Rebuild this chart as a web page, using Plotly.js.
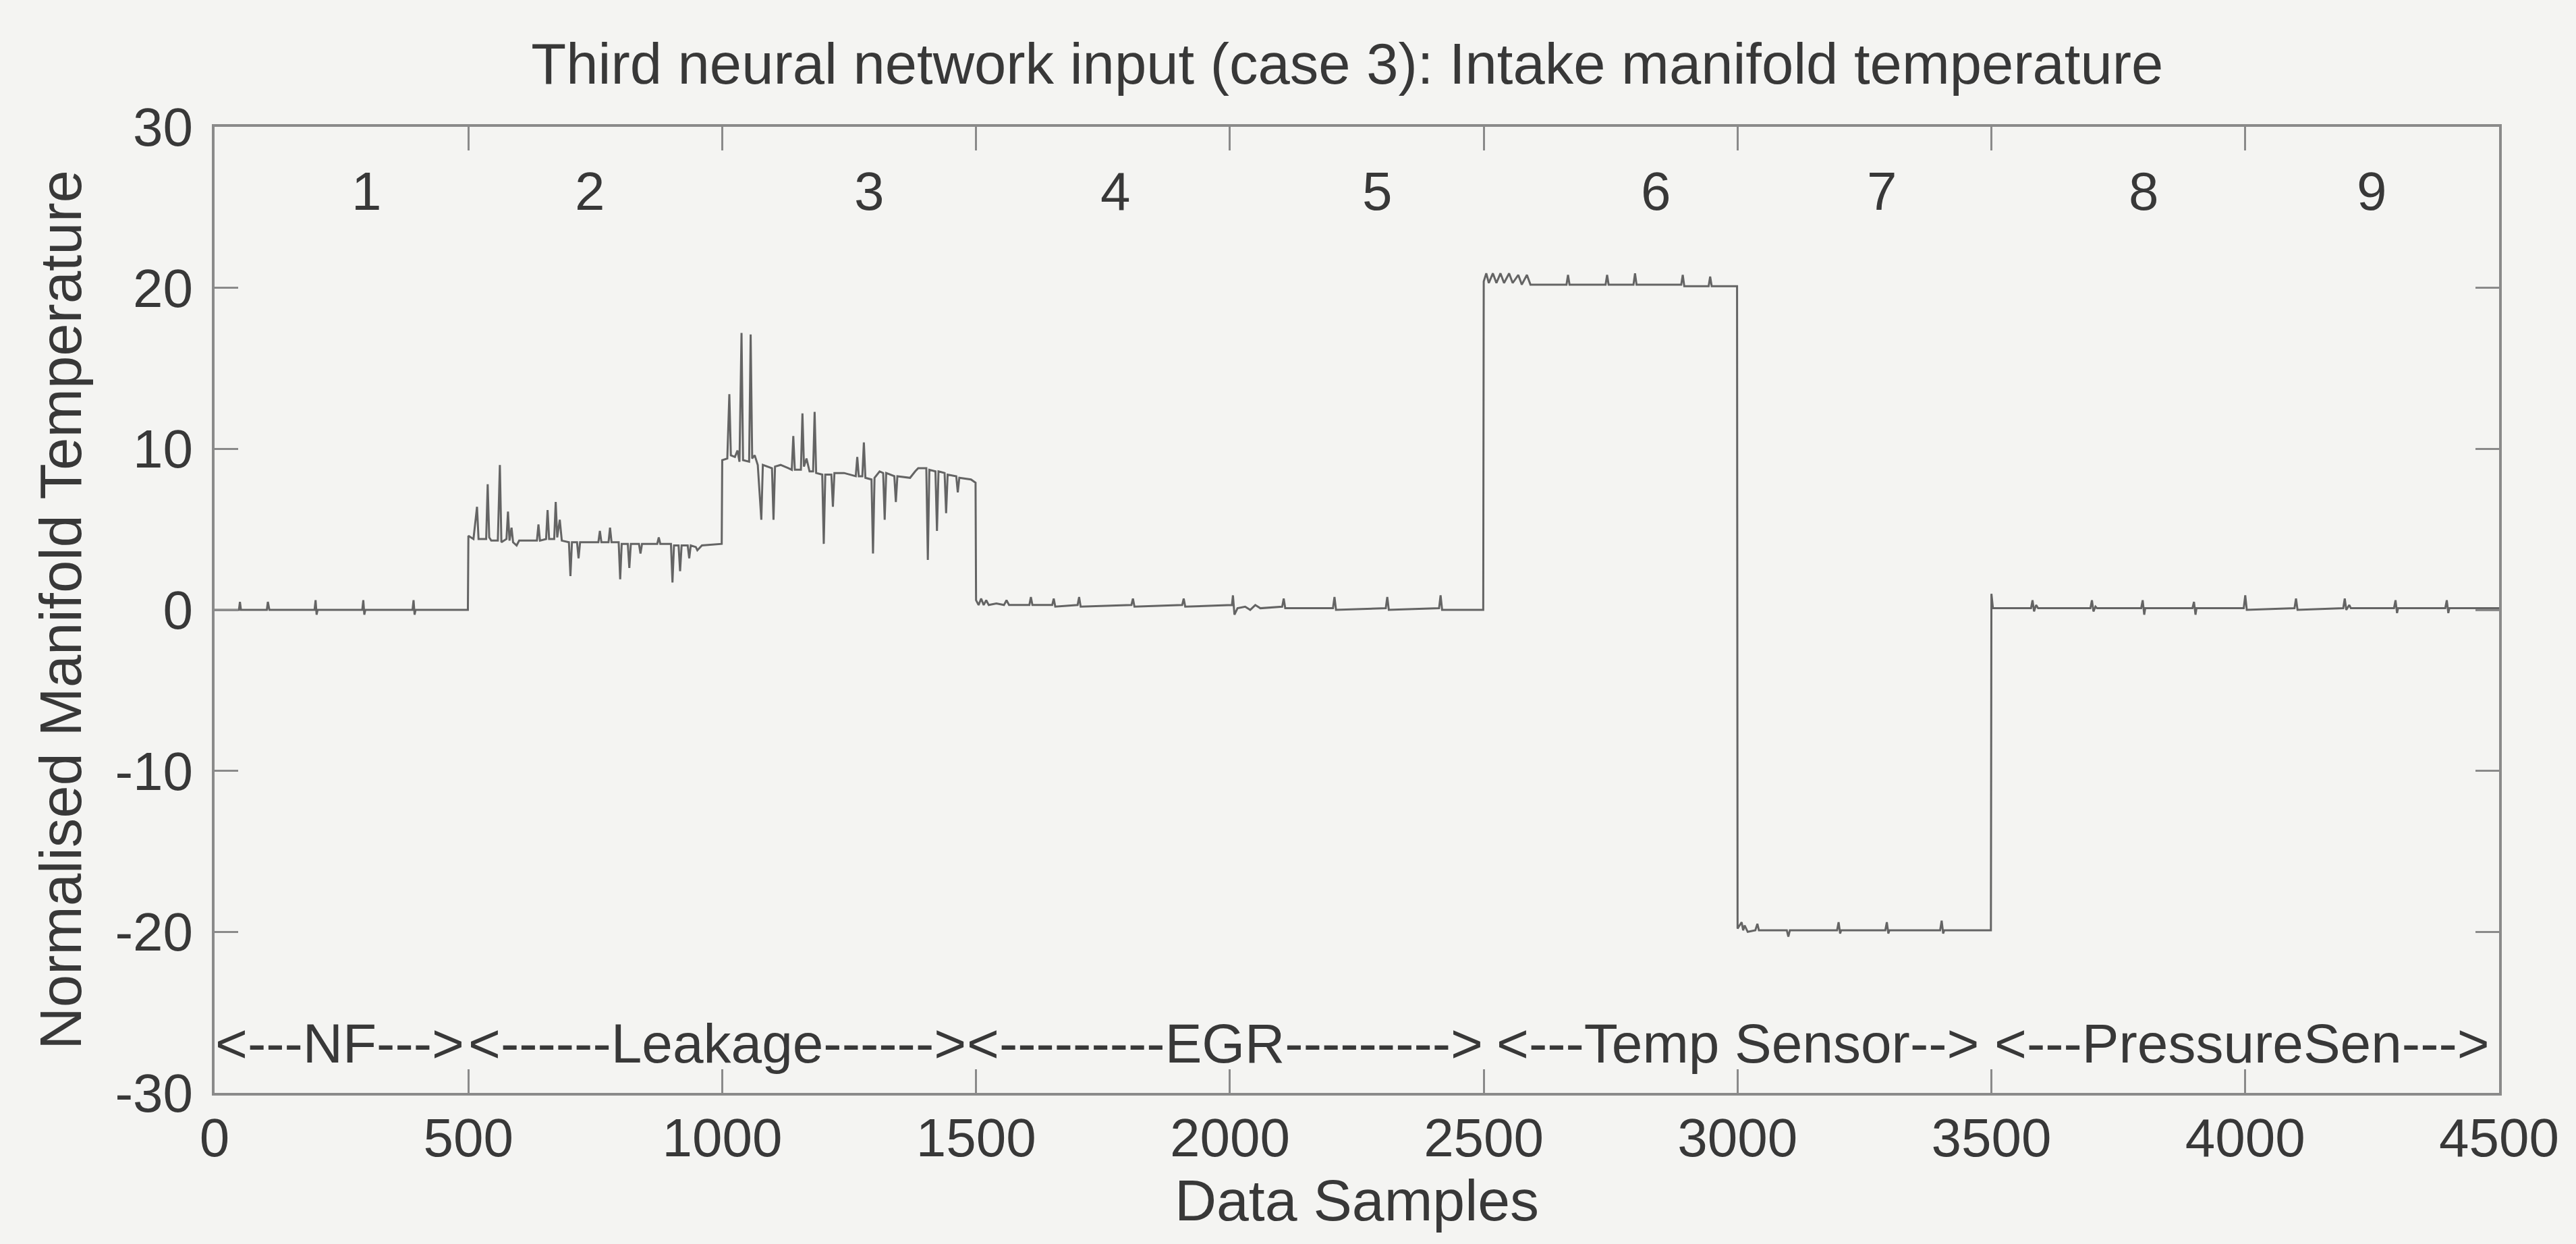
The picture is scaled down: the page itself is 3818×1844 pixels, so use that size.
<!DOCTYPE html>
<html>
<head>
<meta charset="utf-8">
<script src="https://cdn.plot.ly/plotly-3.0.1.min.js"></script>
<style>
  html, body { margin: 0; padding: 0; background: #f4f4f2; }
  #chart { width: 3818px; height: 1844px; }
</style>
</head>
<body>
<div id="chart"></div>
<script>
// ---------- data ----------
// sample index of each plotted point
const sampleIdx = [
  // NF (0-500)
  0, 48, 50, 52, 103, 105, 108, 197, 199, 201, 203, 291, 293, 295, 297, 390, 392, 394, 396, 499,
  // Leakage (500-1000)
  500, 510, 517, 520, 535, 538, 541, 545, 558, 562, 565, 575, 578, 581, 585, 588, 595, 600,
  635, 638, 641, 653, 656, 659, 669, 672, 675, 680, 684, 698, 701, 704, 714, 717, 720,
  756, 759, 762, 776, 779, 782, 796, 799, 802, 814, 817, 820, 836, 839, 842, 872, 875, 878,
  899, 902, 905, 914, 917, 920, 932, 935, 938, 948, 951, 960, 999,
  // Leakage (1000-1500)
  1000, 1010, 1014, 1017, 1025, 1030, 1034, 1038, 1041, 1053, 1056, 1059, 1064, 1070, 1077, 1080,
  1098, 1101, 1104, 1115, 1130, 1137, 1140, 1143, 1155, 1158, 1161, 1166, 1172, 1179, 1182, 1185,
  1197, 1200, 1203, 1215, 1218, 1221, 1240, 1263, 1266, 1269, 1276, 1279, 1282, 1294, 1297, 1300,
  1310, 1317, 1320, 1323, 1339, 1342, 1345, 1370, 1380, 1386, 1402, 1405, 1408, 1420, 1423, 1426,
  1438, 1441, 1444, 1461, 1464, 1467, 1490, 1499,
  // EGR (1500-2500)
  1500, 1505, 1510, 1515, 1520, 1525, 1540, 1555, 1560, 1565, 1605, 1608, 1611, 1650, 1653, 1656,
  1700, 1703, 1706, 1806, 1809, 1812, 1906, 1909, 1912, 2004, 2006, 2009, 2015, 2030, 2040, 2050,
  2060, 2103, 2106, 2109, 2203, 2206, 2209, 2307, 2310, 2313, 2412, 2415, 2418, 2499,
  // Temp sensor (2500-3000)
  2500, 2505, 2510, 2518, 2525, 2533, 2540, 2550, 2557, 2568, 2575, 2585, 2592, 2663, 2666, 2669,
  2740, 2743, 2746, 2795, 2798, 2801, 2889, 2892, 2895, 2943, 2946, 2949, 2999,
  // Temp sensor (3000-3500)
  3000, 3008, 3011, 3014, 3020, 3035, 3039, 3042, 3097, 3100, 3103, 3196, 3199, 3202, 3204, 3291,
  3294, 3297, 3299, 3399, 3402, 3405, 3407, 3499,
  // Pressure sensor (3500-4500)
  3500, 3503, 3578, 3581, 3584, 3588, 3592, 3695, 3698, 3701, 3705, 3708, 3795, 3798, 3801, 3803,
  3896, 3899, 3902, 3904, 3997, 4000, 4003, 4097, 4100, 4103, 4193, 4196, 4199, 4205, 4208, 4293,
  4296, 4299, 4301, 4394, 4397, 4400, 4402, 4500
];

// normalised intake manifold temperature at each of those samples
const temperature = [
  // NF
  0, 0, 0.5, 0, 0, 0.5, 0, 0, 0.6, -0.3, 0, 0, 0.6, -0.3, 0, 0, 0.6, -0.3, 0, 0,
  // Leakage 500-1000
  4.6, 4.4, 6.4, 4.4, 4.4, 7.8, 4.5, 4.3, 4.3, 9.0, 4.2, 4.4, 6.1, 4.3, 5.1, 4.2, 4.0, 4.3,
  4.3, 5.3, 4.3, 4.4, 6.2, 4.4, 4.4, 6.7, 4.5, 5.6, 4.3, 4.2, 2.1, 4.2, 4.2, 3.2, 4.2,
  4.2, 4.9, 4.2, 4.2, 5.1, 4.2, 4.2, 1.9, 4.1, 4.1, 2.6, 4.1, 4.1, 3.5, 4.1, 4.1, 4.5, 4.1,
  4.1, 1.7, 4.0, 4.0, 2.4, 4.0, 4.0, 3.2, 4.0, 3.9, 3.7, 4.0, 4.1,
  // Leakage 1000-1500
  9.3, 9.4, 13.4, 9.6, 9.5, 9.9, 9.2, 17.2, 9.3, 9.2, 17.1, 9.4, 9.6, 9.0, 5.6, 9.0,
  8.8, 5.6, 8.9, 9.0, 8.8, 8.7, 10.8, 8.7, 8.7, 12.2, 8.9, 9.4, 8.6, 8.6, 12.3, 8.5,
  8.4, 4.1, 8.4, 8.4, 6.4, 8.5, 8.5, 8.3, 9.5, 8.3, 8.3, 10.4, 8.2, 8.1, 3.5, 8.2,
  8.6, 8.5, 5.6, 8.5, 8.3, 6.7, 8.3, 8.2, 8.6, 8.8, 8.8, 3.1, 8.7, 8.6, 4.9, 8.6,
  8.5, 6.0, 8.4, 8.3, 7.3, 8.2, 8.1, 7.9,
  // EGR
  0.6, 0.3, 0.7, 0.3, 0.6, 0.3, 0.4, 0.3, 0.6, 0.3, 0.3, 0.8, 0.3, 0.3, 0.7, 0.2,
  0.3, 0.8, 0.2, 0.3, 0.7, 0.2, 0.3, 0.7, 0.2, 0.3, 0.9, -0.3, 0.1, 0.2, 0.0, 0.3,
  0.1, 0.2, 0.7, 0.1, 0.1, 0.8, 0.0, 0.1, 0.8, 0.0, 0.1, 0.9, 0.0, 0.0,
  // Temp sensor high
  20.4, 20.9, 20.3, 20.9, 20.3, 20.9, 20.3, 20.9, 20.3, 20.8, 20.2, 20.8, 20.2, 20.2, 20.8, 20.2,
  20.2, 20.8, 20.2, 20.2, 20.9, 20.2, 20.2, 20.8, 20.1, 20.1, 20.7, 20.1, 20.1,
  // Temp sensor low
  -19.8, -19.4, -19.9, -19.6, -20.0, -19.9, -19.5, -19.9, -19.9, -20.3, -19.9, -19.9, -19.4, -20.1, -19.9, -19.9,
  -19.4, -20.1, -19.9, -19.9, -19.3, -20.1, -19.9, -19.9,
  // Pressure sensor
  1.0, 0.1, 0.1, 0.6, -0.1, 0.3, 0.1, 0.1, 0.6, -0.1, 0.2, 0.1, 0.1, 0.6, -0.3, 0.1,
  0.1, 0.5, -0.3, 0.1, 0.1, 0.9, 0.0, 0.1, 0.7, 0.0, 0.1, 0.7, 0.0, 0.3, 0.1, 0.1,
  0.6, -0.2, 0.1, 0.1, 0.6, -0.2, 0.1, 0.1
];

// case numbers written across the top of the plot
const caseLabels = ['1', '2', '3', '4', '5', '6', '7', '8', '9'];
const caseLabelX = [300, 740, 1290, 1775, 2290, 2840, 3285, 3800, 4250];
const caseLabelY = 26;

// fault-region labels along the bottom
const faultLabels = ['<---NF--->', '<------Leakage------>', '<---------EGR--------->',
                     '<---Temp Sensor-->', '<---PressureSen--->'];
const faultLabelX = [247, 990, 1990, 3000, 3994];
const faultLabelY = -26.9;

const xTickVals = [0, 500, 1000, 1500, 2000, 2500, 3000, 3500, 4000, 4500];
const xTickText = ['0', '500', '1000', '1500', '2000', '2500', '3000', '3500', '4000', '4500'];
const yTickVals = [-30, -20, -10, 0, 10, 20, 30];
const yTickText = ['-30', '-20', '-10', '0', '10', '20', '30'];

// ---------- chart ----------
const FONT = '"Liberation Sans", Arial, Helvetica, sans-serif';
const TXT = '#383838';
const AX = '#8a8a8a';

const trace = {
  x: sampleIdx,
  y: temperature,
  type: 'scatter',
  mode: 'lines',
  line: { color: '#646464', width: 3 },
  hoverinfo: 'x+y'
};

const annotations = [];
caseLabels.forEach((t, i) => annotations.push({
  x: caseLabelX[i], y: caseLabelY, xref: 'x', yref: 'y', text: t, showarrow: false,
  font: { family: FONT, size: 80, color: TXT }, xanchor: 'center', yanchor: 'middle'
}));
faultLabels.forEach((t, i) => annotations.push({
  x: faultLabelX[i], y: faultLabelY, xref: 'x', yref: 'y', text: t, showarrow: false,
  font: { family: FONT, size: 82, color: TXT }, xanchor: 'center', yanchor: 'middle'
}));

const axisCommon = {
  showline: true, linecolor: AX, linewidth: 4, mirror: 'ticks',
  ticks: 'inside', ticklen: 35, tickwidth: 3, tickcolor: AX,
  showgrid: false, zeroline: false,
  tickfont: { family: FONT, size: 80, color: TXT }
};

const layout = {
  width: 3818, height: 1844,
  paper_bgcolor: '#f4f4f2', plot_bgcolor: '#f4f4f2',
  margin: { l: 318, r: 114, t: 188, b: 224, pad: 0 },
  showlegend: false,
  title: {
    text: 'Third neural network input (case 3): Intake manifold temperature',
    font: { family: FONT, size: 85, color: TXT },
    xref: 'container', x: 0.523, xanchor: 'center',
    yref: 'container', y: 0.949, yanchor: 'middle'
  },
  xaxis: Object.assign({}, axisCommon, {
    range: [0, 4500], tickmode: 'array', tickvals: xTickVals, ticktext: xTickText,
    ticklabelstandoff: -6,
    title: { text: 'Data Samples', font: { family: FONT, size: 86, color: TXT }, standoff: 18 }
  }),
  yaxis: Object.assign({}, axisCommon, {
    range: [-30, 30], tickmode: 'array', tickvals: yTickVals, ticktext: yTickText,
    ticklabelstandoff: 12,
    title: { text: 'Normalised Manifold Temperature', font: { family: FONT, size: 87, color: TXT }, standoff: 22 }
  }),
  annotations: annotations
};

Plotly.newPlot('chart', [trace], layout, { displayModeBar: false, staticPlot: true });
</script>
</body>
</html>
